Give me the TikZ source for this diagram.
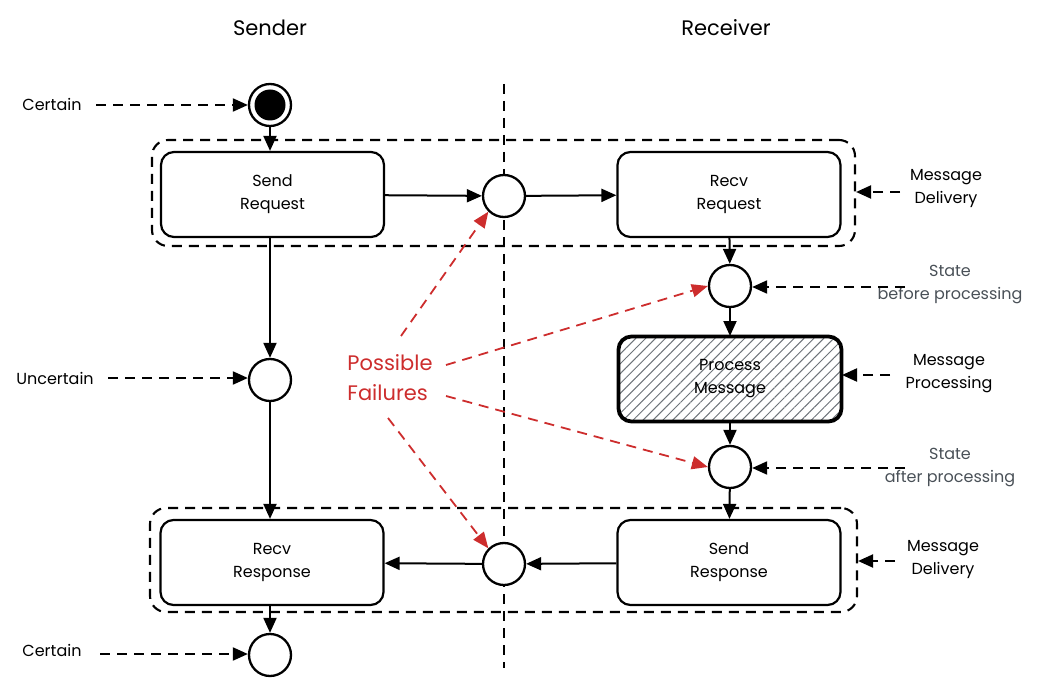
\documentclass[tikz,border=0pt]{standalone}
\usepackage{fontspec}
\setmainfont{Poppins}
\usetikzlibrary{arrows.meta,patterns.meta,positioning}
\definecolor{fred}{RGB}{205,45,45}
\definecolor{slate}{RGB}{73,80,87}
\begin{document}
\begin{tikzpicture}[x=1pt,y=-1pt,
  txt/.style={font=\fontsize{16}{23}\selectfont, align=center, inner sep=1pt},
  ttl/.style={font=\fontsize{21}{26}\selectfont},
  box/.style={draw, line width=2.2pt, rounded corners=13pt, minimum width=223pt, minimum height=85pt, fill=white, txt},
  pbox/.style={box, line width=3.8pt, pattern={Lines[angle=45,distance=7pt,line width=1pt]}, pattern color=slate!80},
  grp/.style={draw, line width=2.1pt, dash pattern=on 10pt off 7pt, rounded corners=16pt},
  st/.style={draw, circle, line width=2.3pt, minimum size=42pt, inner sep=0pt, fill=white},
  fl/.style={line width=2pt, -{Triangle[length=15pt,width=13pt]}},
  da/.style={line width=2pt, dash pattern=on 10pt off 7pt, -{Triangle[length=15pt,width=13pt]}},
  ra/.style={line width=1.8pt, fred, dash pattern=on 10pt off 7pt, -{Triangle[length=16pt,width=13pt]}},
]
\useasboundingbox (0,0) rectangle (1042,687);

% titles
\node[ttl] (tsend) at (270,28) {Sender};
\node[ttl] (trecv) at (726,28) {Receiver};

% swimlane divider
\coordinate (lt) at (503.5,84);
\coordinate (lb) at (503.5,668);
\draw[line width=2pt, dash pattern=on 10pt off 7pt] (lt) -- (lb);

% groups
\node[grp, minimum width=703pt, minimum height=106pt] (g1) at (503.5,193) {};
\node[grp, minimum width=707pt, minimum height=104pt] (g2) at (503.5,560) {};

% boxes
\node[box] (sreq) at (272.5,194.5) {Send\\Request};
\node[box] (rreq) at (729,194.5) {Recv\\Request};
\node[pbox] (proc) at (730,379) {Process\\Message};
\node[box] (sres) at (729,562.5) {Send\\Response};
\node[box] (rres) at (272,562.5) {Recv\\Response};

% states
\node[circle, draw, line width=2.3pt, minimum size=42pt, inner sep=0pt, fill=white] (start) at (270,105) {};
\node[circle, fill=black, minimum size=31pt, inner sep=0pt] (startin) at (270,105) {};
\node[st] (c1) at (504,196) {};
\node[st] (c2) at (730,286) {};
\node[st] (c3) at (730,467) {};
\node[st] (c4) at (504,564) {};
\node[st] (u) at (270,380) {};
\node[st] (fin) at (270,655) {};

% flow
\draw[fl] (start) -- (sreq.north -| start);
\draw[fl] (sreq) -- (c1);
\draw[fl] (c1) -- (rreq);
\draw[fl] (rreq) -- (c2);
\draw[fl] (c2) -- (proc);
\draw[fl] (proc) -- (c3);
\draw[fl] (c3) -- (sres);
\draw[fl] (sres) -- (c4);
\draw[fl] (c4) -- (rres);
\draw[fl] (sreq.south -| u) -- (u);
\draw[fl] (u) -- (rres.north -| u);
\draw[fl] (rres.south -| fin) -- (fin);

% left labels
\node[txt] (lc1) at (52,104) {Certain};
\node[txt] (lu) at (55,378) {Uncertain};
\node[txt] (lc2) at (52,650) {Certain};
\coordinate (a1) at (96,105);
\coordinate (a2) at (108,378);
\coordinate (a3) at (100,654);
\draw[da] (a1) -- (start.west |- a1);
\draw[da] (a2) -- (u.west |- a2);
\draw[da] (a3) -- (fin.west |- a3);

% right labels
\node[txt] (md1) at (946,189) {Message\\Delivery};
\node[txt, text=slate] (sb) at (950,285) {State\\before processing};
\node[txt] (mp) at (949,374) {Message\\Processing};
\node[txt, text=slate] (sa) at (950,468) {State\\after processing};
\node[txt] (md2) at (943,560) {Message\\Delivery};
\coordinate (b1) at (900,192);
\coordinate (b2) at (905,287);
\coordinate (b3) at (890,375);
\coordinate (b4) at (905,468);
\coordinate (b5) at (895,561);
\draw[da] (b1) -- (g1.east |- b1);
\draw[da] (b2) -- (c2.east |- b2);
\draw[da] (b3) -- (proc.east |- b3);
\draw[da] (b4) -- (c3.east |- b4);
\draw[da] (b5) -- (g2.east |- b5);

% possible failures
\node[font=\fontsize{21}{30}\selectfont, text=fred, align=left, inner sep=1pt] (pf) at (390,378) {Possible\\Failures};
\coordinate (f1) at (401,336);
\coordinate (f2) at (446,365);
\coordinate (f3) at (446,396);
\coordinate (f4) at (388,418);
\draw[ra] (f1) -- (c1.south west);
\draw[ra] (f2) -- (c2.west);
\draw[ra] (f3) -- (c3.west);
\draw[ra] (f4) -- (c4.north west);
\end{tikzpicture}
\end{document}
